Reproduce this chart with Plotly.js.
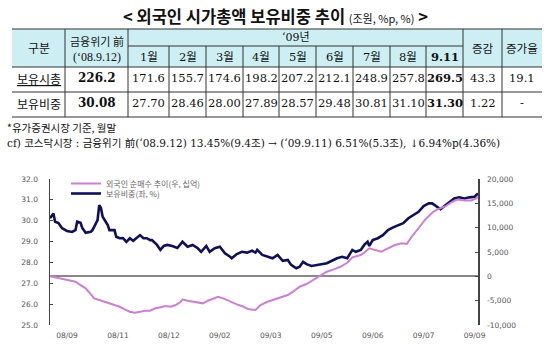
<!DOCTYPE html>
<html><head><meta charset="utf-8">
<script src="https://cdn.plot.ly/plotly-3.0.1.min.js"></script>
<style>html,body{margin:0;padding:0;background:#fff;}</style>
</head><body><div id="chart" style="width:550px;height:353px;"></div>
<script>
// ---------- table data ----------
const monthLabels = ['1월','2월','3월','4월','5월','6월','7월','8월','9.11'];
const rowLabels = ['보유시총','보유비중'];
const preCrisis = [226.2, 30.08];
const marketCap = [171.6,155.7,174.6,198.2,207.2,212.1,248.9,257.8,269.5];
const holdingShare = [27.70,28.46,28.00,27.89,28.57,29.48,30.81,31.10,31.30];
const changeVals = ['43.3','1.22'];
const growthVals = ['19.1','-'];

// ---------- chart data (trading-day index) ----------
const shareDays = [0,2,3,5,7,10,13,15,16,18,19,21,24,25,28,29,30,31,34,35,38,39,41,43,45,47,49,51,53,55,57,59,60,63,65,67,69,72,75,78,81,84,87,89,92,94,97,100,103,106,107,110,113,116,119,121,122,125,128,131,134,137,140,142,145,147,149,151,154,157,160,163,166,169,172,175,178,180,183,185,187,188,190,193,196,199,202,205,208,211,214,217,220,223,225,228,230,233,236,238,241,244,247,250,252];
const shareVals = [30.12,30.35,29.95,29.89,29.65,29.51,29.46,29.55,29.95,29.90,29.65,29.42,29.47,29.55,30.03,30.75,30.61,30.19,29.79,29.55,29.55,29.23,29.16,29.17,28.99,29.16,29.04,29.16,29.31,29.16,29.16,29.07,29.07,28.84,28.60,28.79,28.84,28.79,28.69,28.99,28.75,28.84,28.68,28.51,28.79,28.51,28.68,28.75,28.44,28.27,28.20,28.40,28.51,28.47,28.56,28.47,28.60,28.36,28.27,28.20,28.36,28.08,28.12,27.88,27.72,27.79,28.03,27.92,27.83,27.88,27.92,27.96,28.08,28.20,28.27,28.20,28.60,28.51,28.60,28.84,28.99,28.79,29.07,29.16,29.31,29.55,29.68,29.79,29.88,30.12,30.27,30.43,30.70,30.83,30.83,30.67,30.55,30.75,30.96,31.07,31.12,31.07,31.12,31.15,31.31];
const buyDays = [0,3,6,9,12,15,18,21,24,26,29,32,35,38,41,44,47,50,53,56,59,62,65,68,71,74,77,78,81,84,87,90,93,96,99,102,105,108,111,114,117,121,124,128,131,135,140,143,147,151,155,159,163,167,171,175,178,183,185,188,191,195,199,203,207,210,213,217,221,225,228,233,237,240,244,248,251,252];
const buyVals = [0,-210,-410,-620,-760,-1110,-1790,-2470,-3640,-4520,-4870,-5220,-5550,-5900,-6250,-6780,-7270,-7480,-7270,-7070,-7070,-6570,-6370,-6100,-6250,-5900,-5220,-4730,-5010,-5220,-5420,-5550,-5010,-4520,-4190,-4520,-5010,-5420,-5900,-6250,-6780,-6920,-5900,-5220,-4870,-4520,-3840,-3160,-2140,-1580,-760,60,950,1440,1970,2790,3900,4380,4850,5750,5400,5050,5750,6430,6780,6640,8140,9860,11710,13070,13770,14440,15330,15800,15600,15600,16000,16400];
const xTickDays = [10,40,70,100,130,160,190,220,250];
const xTickText = ['08/09','08/11','08/12','09/02','09/03','09/05','09/06','09/07','09/09'];
const leftTicks = [25,26,27,28,29,30,31,32];
const rightTicks = [-10000,-5000,0,5000,10000,15000,20000];
const rightTickText = ['-10,000','-5,000','0','5,000','10,000','15,000','20,000'];

// ---------- layout helpers (pixel -> paper) ----------
const W = 550, H = 353;
const px = x => x / W;
const py = y => 1 - y / H;
const colEdges = [12, 65, 128, 169, 206, 243, 279, 316, 353, 390, 426, 463, 502, 542];
const rowEdges = [29, 46, 67, 92, 117];
const LINE = '#333';
const CJK = 'Noto Sans CJK KR';
const SERIF = 'DejaVu Serif, Noto Sans CJK KR';

const shapes = [];
const annotations = [];
shapes.push({type:'rect', xref:'paper', yref:'paper', x0:px(colEdges[0]), x1:px(colEdges[colEdges.length-1]), y0:py(rowEdges[0]), y1:py(rowEdges[2]), fillcolor:'#cdeff4', line:{width:0}, layer:'below'});
function hline(y, x0, x1, w){ shapes.push({type:'line', xref:'paper', yref:'paper', x0:px(x0), x1:px(x1), y0:py(y), y1:py(y), line:{color:LINE, width:w||1}}); }
function vline(x, y0, y1){ shapes.push({type:'line', xref:'paper', yref:'paper', x0:px(x), x1:px(x), y0:py(y0), y1:py(y1), line:{color:LINE, width:1}}); }
const L = colEdges[0], R = colEdges[colEdges.length-1];
hline(rowEdges[0], L, R, 1.2);
hline(rowEdges[1], colEdges[2], colEdges[11]);
hline(rowEdges[2], L, R);
hline(rowEdges[3], L, R);
hline(rowEdges[4], L, R, 1.2);
[1,2,11,12].forEach(i => vline(colEdges[i], rowEdges[0], rowEdges[4]));
for (let i = 3; i <= 10; i++) vline(colEdges[i], rowEdges[1], rowEdges[4]);

function cell(text, ci0, ci1, yc, size, family, color){
  annotations.push({xref:'paper', yref:'paper', x:px((colEdges[ci0]+colEdges[ci1])/2), y:py(yc), text:text, showarrow:false,
    xanchor:'center', yanchor:'middle', font:{size:size, family:family, color:color||'#111'}});
}
cell('구분', 0, 1, 48, 12, CJK);
cell('금융위기 前', 1, 2, 41, 11, CJK);
cell('(‘08.9.12)', 1, 2, 57, 12, 'Liberation Serif');
cell('‘09년', 2, 11, 37.5, 11, SERIF);
monthLabels.forEach((m, i) => cell(i === monthLabels.length-1 ? '<b>'+m+'</b>' : m, 2+i, 3+i, 56.5, 11.5, SERIF));
cell('증감', 11, 12, 48, 11.5, CJK);
cell('증가율', 12, 13, 48, 11.5, CJK);
const rowY = [77.5, 102.5];
const rowsData = [marketCap.map(v => v.toFixed(1)), holdingShare.map(v => v.toFixed(2))];
const preFmt = [preCrisis[0].toFixed(1), preCrisis[1].toFixed(2)];
rowLabels.forEach((lab, r) => {
  cell(r === 0 ? '<u>'+lab+'</u>' : lab, 0, 1, rowY[r]+1, 12, CJK);
  cell('<b>'+preFmt[r]+'</b>', 1, 2, rowY[r], 12, SERIF);
  rowsData[r].forEach((v, i) => cell(i === rowsData[r].length-1 ? '<b>'+v+'</b>' : v, 2+i, 3+i, rowY[r], 11.5, SERIF));
  cell(changeVals[r], 11, 12, rowY[r], 11.5, SERIF);
  cell(growthVals[r], 12, 13, rowY[r], 11.5, SERIF);
});
annotations.push({xref:'paper', yref:'paper', x:0.5, y:py(15.5), xanchor:'center', yanchor:'middle', showarrow:false,
  text:'<b>&lt; 외국인 시가총액 보유비중 추이</b> <span style="font-size:11px;font-weight:normal">(조원, %p, %)</span> <b>&gt;</b>',
  font:{size:16.5, family:CJK, color:'#111'}});
annotations.push({xref:'paper', yref:'paper', x:px(5), y:py(128), xanchor:'left', yanchor:'middle', showarrow:false,
  text:'*유가증권시장 기준, 월말', font:{size:10.5, family:CJK, color:'#111'}});
annotations.push({xref:'paper', yref:'paper', x:px(5), y:py(142.5), xanchor:'left', yanchor:'middle', showarrow:false,
  text:'cf) 코스닥시장 : 금융위기 前(‘08.9.12) 13.45%(9.4조) → (‘09.9.11) 6.51%(5.3조), ↓6.94%p(4.36%)',
  font:{size:10.5, family:'DejaVu Serif, Noto Sans CJK KR', color:'#111'}});

const traces = [
  {x: buyDays, y: buyVals, yaxis:'y2', type:'scatter', mode:'lines', name:'외국인 순매수 추이(우, 십억)',
   line:{color:'#cc7fd3', width:2}, legend:'legend'},
  {x: shareDays, y: shareVals, yaxis:'y', type:'scatter', mode:'lines', name:'보유비중(좌, %)',
   line:{color:'#0f1058', width:2.6}, legend:'legend2'}
];

const tickFont = {size:7.5, family:'DejaVu Sans', color:'#555'};
const legFont = {size:8, family:CJK, color:'#666'};
const layout = {
  width:W, height:H, margin:{l:0, r:0, t:0, b:0}, paper_bgcolor:'#fff', plot_bgcolor:'rgba(0,0,0,0)',
  showlegend:true,
  xaxis:{domain:[px(50), px(478)], range:[0,252], tickvals:xTickDays, ticktext:xTickText, showgrid:false, zeroline:false,
    showline:false, ticks:'', tickfont:tickFont, ticklabelstandoff:4, fixedrange:true},
  yaxis:{domain:[py(325), py(179)], range:[25,32], tickvals:leftTicks, ticktext:leftTicks.map(v=>v.toFixed(1)),
    showgrid:false, zeroline:false, showline:true, linecolor:'#444', linewidth:1.5, ticks:'inside', ticklen:3, tickcolor:'#444',
    tickfont:tickFont, ticklabelstandoff:9},
  yaxis2:{overlaying:'y', side:'right', range:[-10000,20000], tickvals:rightTicks, ticktext:rightTickText,
    showgrid:false, zeroline:true, zerolinecolor:'#888', zerolinewidth:2, showline:true, linecolor:'#444', linewidth:1.5,
    ticks:'inside', ticklen:3, tickcolor:'#444', tickfont:tickFont, ticklabelstandoff:6},
  legend:{x:px(66), y:py(169), xanchor:'left', yanchor:'top', bgcolor:'rgba(0,0,0,0)', font:legFont, itemwidth:30},
  legend2:{x:px(66), y:py(179), xanchor:'left', yanchor:'top', bgcolor:'rgba(0,0,0,0)', font:legFont, itemwidth:30},
  shapes:shapes, annotations:annotations
};
Plotly.newPlot('chart', traces, layout, {staticPlot:true, displayModeBar:false});
</script></body></html>
